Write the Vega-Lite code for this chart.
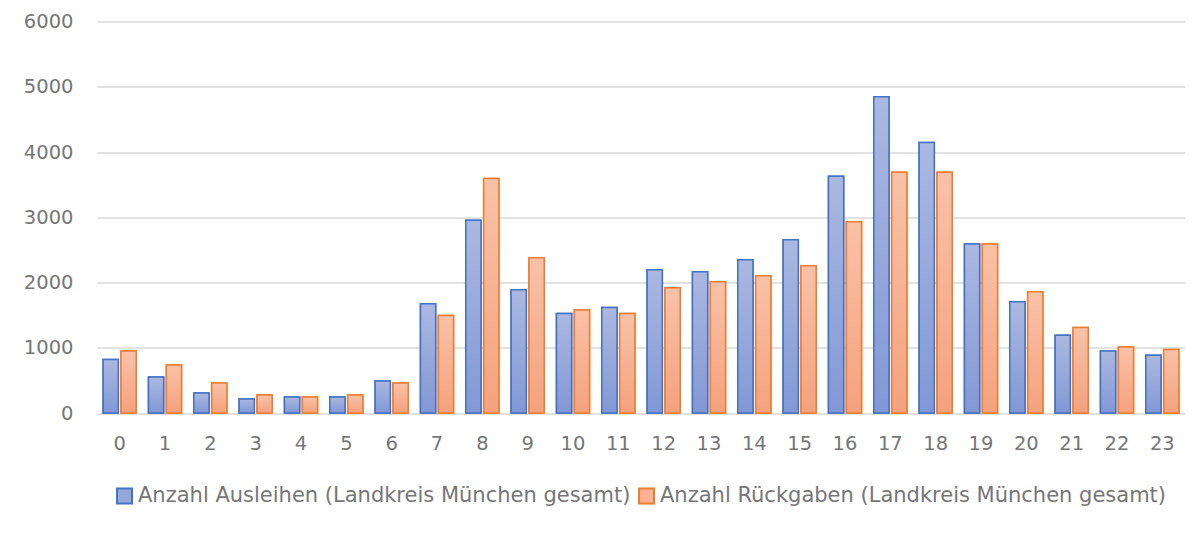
{
  "$schema": "https://vega.github.io/schema/vega-lite/v6.json",
  "width": 1088,
  "height": 391.5,
  "autosize": "none",
  "padding": {"left": 97, "top": 21.5, "right": 19, "bottom": 121},
  "background": "white",
  "config": {
    "view": {"stroke": null},
    "font": "DejaVu Sans"
  },
  "data": {
    "values": [
      {"hour": 0, "series": "Anzahl Ausleihen (Landkreis München gesamt)", "value": 820},
      {"hour": 0, "series": "Anzahl Rückgaben (Landkreis München gesamt)", "value": 950},
      {"hour": 1, "series": "Anzahl Ausleihen (Landkreis München gesamt)", "value": 550},
      {"hour": 1, "series": "Anzahl Rückgaben (Landkreis München gesamt)", "value": 735},
      {"hour": 2, "series": "Anzahl Ausleihen (Landkreis München gesamt)", "value": 305},
      {"hour": 2, "series": "Anzahl Rückgaben (Landkreis München gesamt)", "value": 460},
      {"hour": 3, "series": "Anzahl Ausleihen (Landkreis München gesamt)", "value": 215},
      {"hour": 3, "series": "Anzahl Rückgaben (Landkreis München gesamt)", "value": 275},
      {"hour": 4, "series": "Anzahl Ausleihen (Landkreis München gesamt)", "value": 245},
      {"hour": 4, "series": "Anzahl Rückgaben (Landkreis München gesamt)", "value": 245},
      {"hour": 5, "series": "Anzahl Ausleihen (Landkreis München gesamt)", "value": 245},
      {"hour": 5, "series": "Anzahl Rückgaben (Landkreis München gesamt)", "value": 275},
      {"hour": 6, "series": "Anzahl Ausleihen (Landkreis München gesamt)", "value": 490},
      {"hour": 6, "series": "Anzahl Rückgaben (Landkreis München gesamt)", "value": 460},
      {"hour": 7, "series": "Anzahl Ausleihen (Landkreis München gesamt)", "value": 1675},
      {"hour": 7, "series": "Anzahl Rückgaben (Landkreis München gesamt)", "value": 1495},
      {"hour": 8, "series": "Anzahl Ausleihen (Landkreis München gesamt)", "value": 2955},
      {"hour": 8, "series": "Anzahl Rückgaben (Landkreis München gesamt)", "value": 3595},
      {"hour": 9, "series": "Anzahl Ausleihen (Landkreis München gesamt)", "value": 1890},
      {"hour": 9, "series": "Anzahl Rückgaben (Landkreis München gesamt)", "value": 2380},
      {"hour": 10, "series": "Anzahl Ausleihen (Landkreis München gesamt)", "value": 1525},
      {"hour": 10, "series": "Anzahl Rückgaben (Landkreis München gesamt)", "value": 1580},
      {"hour": 11, "series": "Anzahl Ausleihen (Landkreis München gesamt)", "value": 1615},
      {"hour": 11, "series": "Anzahl Rückgaben (Landkreis München gesamt)", "value": 1525},
      {"hour": 12, "series": "Anzahl Ausleihen (Landkreis München gesamt)", "value": 2195},
      {"hour": 12, "series": "Anzahl Rückgaben (Landkreis München gesamt)", "value": 1920},
      {"hour": 13, "series": "Anzahl Ausleihen (Landkreis München gesamt)", "value": 2165},
      {"hour": 13, "series": "Anzahl Rückgaben (Landkreis München gesamt)", "value": 2010},
      {"hour": 14, "series": "Anzahl Ausleihen (Landkreis München gesamt)", "value": 2350},
      {"hour": 14, "series": "Anzahl Rückgaben (Landkreis München gesamt)", "value": 2105},
      {"hour": 15, "series": "Anzahl Ausleihen (Landkreis München gesamt)", "value": 2655},
      {"hour": 15, "series": "Anzahl Rückgaben (Landkreis München gesamt)", "value": 2255},
      {"hour": 16, "series": "Anzahl Ausleihen (Landkreis München gesamt)", "value": 3630},
      {"hour": 16, "series": "Anzahl Rückgaben (Landkreis München gesamt)", "value": 2930},
      {"hour": 17, "series": "Anzahl Ausleihen (Landkreis München gesamt)", "value": 4845},
      {"hour": 17, "series": "Anzahl Rückgaben (Landkreis München gesamt)", "value": 3690},
      {"hour": 18, "series": "Anzahl Ausleihen (Landkreis München gesamt)", "value": 4145},
      {"hour": 18, "series": "Anzahl Rückgaben (Landkreis München gesamt)", "value": 3690},
      {"hour": 19, "series": "Anzahl Ausleihen (Landkreis München gesamt)", "value": 2590},
      {"hour": 19, "series": "Anzahl Rückgaben (Landkreis München gesamt)", "value": 2590},
      {"hour": 20, "series": "Anzahl Ausleihen (Landkreis München gesamt)", "value": 1705},
      {"hour": 20, "series": "Anzahl Rückgaben (Landkreis München gesamt)", "value": 1860},
      {"hour": 21, "series": "Anzahl Ausleihen (Landkreis München gesamt)", "value": 1190},
      {"hour": 21, "series": "Anzahl Rückgaben (Landkreis München gesamt)", "value": 1310},
      {"hour": 22, "series": "Anzahl Ausleihen (Landkreis München gesamt)", "value": 950},
      {"hour": 22, "series": "Anzahl Rückgaben (Landkreis München gesamt)", "value": 1010},
      {"hour": 23, "series": "Anzahl Ausleihen (Landkreis München gesamt)", "value": 885},
      {"hour": 23, "series": "Anzahl Rückgaben (Landkreis München gesamt)", "value": 975}
    ]
  },
  "encoding": {
    "x": {
      "field": "hour",
      "type": "ordinal",
      "scale": {"paddingInner": 0.27, "paddingOuter": 0.135},
      "axis": {
        "title": null,
        "labelAngle": 0,
        "domain": false,
        "ticks": false,
        "labelPadding": 21,
        "labelFontSize": 19.5,
        "labelColor": "#767676",
        "labelFont": "DejaVu Sans"
      }
    },
    "xOffset": {
      "field": "series",
      "type": "nominal",
      "scale": {"paddingInner": 0.15}
    },
    "y": {
      "field": "value",
      "type": "quantitative",
      "scale": {"domain": [0, 6000], "nice": false},
      "axis": {
        "title": null,
        "values": [0, 1000, 2000, 3000, 4000, 5000, 6000],
        "format": "d",
        "grid": true,
        "gridColor": "#D9D9D9",
        "gridWidth": 1.5,
        "domain": false,
        "ticks": false,
        "labelPadding": 24,
        "labelFontSize": 19.5,
        "labelColor": "#767676",
        "labelFont": "DejaVu Sans"
      }
    }
  },
  "layer": [
    {
      "mark": {"type": "bar", "strokeWidth": 1.5},
      "encoding": {
        "fill": {
          "field": "series",
          "type": "nominal",
          "scale": {
            "domain": ["Anzahl Ausleihen (Landkreis München gesamt)", "Anzahl Rückgaben (Landkreis München gesamt)"],
            "range": ["#96A8DB", "#F6B293"]
          },
          "legend": {
            "title": null,
            "orient": "none",
            "legendX": 17,
            "legendY": 464,
            "direction": "horizontal",
            "symbolType": "square",
            "symbolSize": 225,
            "symbolStrokeWidth": 2,
            "labelFontSize": 21,
            "labelColor": "#767676",
            "labelFont": "DejaVu Sans",
            "labelLimit": 0,
            "labelOffset": 3,
            "columnPadding": 4
          }
        },
        "stroke": {
          "field": "series",
          "type": "nominal",
          "scale": {
            "domain": ["Anzahl Ausleihen (Landkreis München gesamt)", "Anzahl Rückgaben (Landkreis München gesamt)"],
            "range": ["#4472C4", "#ED7D31"]
          },
          "legend": {
            "title": null,
            "orient": "none",
            "legendX": 17,
            "legendY": 464,
            "direction": "horizontal",
            "symbolType": "square",
            "symbolSize": 225,
            "symbolStrokeWidth": 2,
            "labelFontSize": 21,
            "labelColor": "#767676",
            "labelFont": "DejaVu Sans",
            "labelLimit": 0,
            "labelOffset": 3,
            "columnPadding": 4
          }
        }
      }
    },
    {
      "transform": [{"filter": "datum.series === 'Anzahl Ausleihen (Landkreis München gesamt)'"}],
      "mark": {
        "type": "bar",
        "strokeWidth": 1.5,
        "stroke": "#4472C4",
        "fill": {"gradient": "linear", "x1": 0, "y1": 0, "x2": 0, "y2": 1, "stops": [{"offset": 0, "color": "#ABB8E0"}, {"offset": 1, "color": "#8298D5"}]}
      }
    },
    {
      "transform": [{"filter": "datum.series === 'Anzahl Rückgaben (Landkreis München gesamt)'"}],
      "mark": {
        "type": "bar",
        "strokeWidth": 1.5,
        "stroke": "#ED7D31",
        "fill": {"gradient": "linear", "x1": 0, "y1": 0, "x2": 0, "y2": 1, "stops": [{"offset": 0, "color": "#F8C2A8"}, {"offset": 1, "color": "#F4A27E"}]}
      }
    }
  ]
}
